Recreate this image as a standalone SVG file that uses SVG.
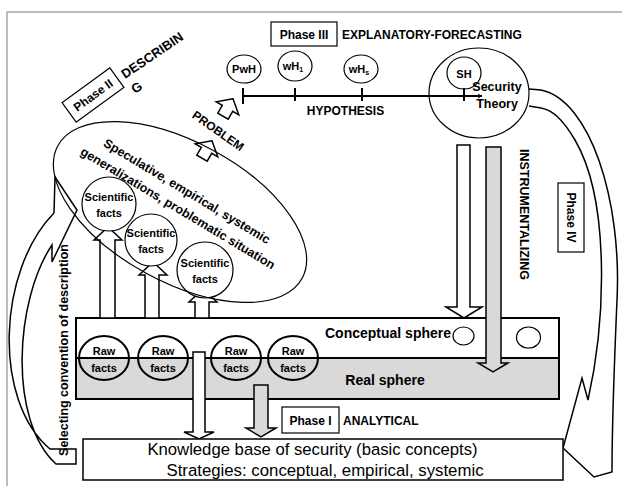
<svg xmlns="http://www.w3.org/2000/svg" width="622" height="486" viewBox="0 0 622 486">
<style>
text{font-family:"Liberation Sans",Arial,sans-serif;fill:#000}
.b{font-weight:bold}
.ln{fill:none;stroke:#000;stroke-width:1.5}
.wf{fill:#fff;stroke:#000;stroke-width:1.5}
.gf{fill:#d9d9d9;stroke:#000;stroke-width:1.5}
.c2{fill:none;stroke:#000;stroke-width:2}
.cw{fill:#fff;stroke:#000;stroke-width:1.2}
</style>
<defs>
<marker id="ah" viewBox="0 0 10 10" refX="9" refY="5" markerWidth="5" markerHeight="5" orient="auto" markerUnits="userSpaceOnUse"><path d="M0,0 L10,5 L0,10 Z" fill="#000"/></marker>
</defs>
<rect width="622" height="486" fill="#fff"/>
<path d="M7,486 V12 H622" fill="none" stroke="#a6a6a6" stroke-width="1.5"/>

<g id="spheres">
<rect x="76" y="318" width="483" height="81" fill="#fff" stroke="none"/>
<rect x="76" y="358" width="483" height="41" fill="#d9d9d9" stroke="none"/>
<rect x="76" y="318" width="483" height="81" fill="none" stroke="#000" stroke-width="2"/>
<line x1="76" y1="358" x2="559" y2="358" stroke="#000" stroke-width="2"/>
<text class="b" x="388" y="338" font-size="14" text-anchor="middle">Conceptual sphere</text>
<text class="b" x="385" y="385" font-size="14" text-anchor="middle">Real sphere</text>
<ellipse class="cw" cx="463.5" cy="336" rx="10.5" ry="9"/>
<ellipse class="cw" cx="528.5" cy="337.5" rx="12" ry="10.5"/>
</g>

<g id="raw-facts">
<ellipse class="c2" cx="104" cy="358" rx="25" ry="22"/>
<ellipse class="c2" cx="163" cy="358" rx="25" ry="22"/>
<ellipse class="c2" cx="236" cy="358" rx="25" ry="22"/>
<ellipse class="c2" cx="293" cy="358" rx="25" ry="22"/>
<g class="b" font-size="11" text-anchor="middle">
<text x="104" y="355">Raw</text><text x="104" y="372">facts</text>
<text x="163" y="355">Raw</text><text x="163" y="372">facts</text>
<text x="236" y="355">Raw</text><text x="236" y="372">facts</text>
<text x="293" y="355">Raw</text><text x="293" y="372">facts</text>
</g>
</g>

<g id="connectors">
<path class="wf" d="M100,318 V240 H94 L108,227 L122,240 H115 V318 Z"/>
<path class="wf" d="M145,318 V275 H139 L153,262 L167,275 H159 V318 Z"/>
<path class="wf" d="M195,318 V302 H189 L203,289 L217,302 H209 V318 Z"/>
<path class="wf" d="M457,145 V307 H446 L464,318 L482,307 H470 V145 Z"/>
<path class="gf" d="M486,147 V363 H478 L493,372 L508,363 H501 V147 Z"/>
<path class="wf" d="M193,352 V432 H184 L199,439 L214,432 H205 V352 Z"/>
<path class="gf" d="M254,385 V428 H246 L261,437 L276,428 H268 V385 Z"/>
<path class="wf" d="M0,-6 L-13,5 H-6 V14 H6 V5 H13 Z" transform="translate(230,104) rotate(30)"/>
<path class="wf" d="M0,-6 L-13,5 H-6 V14 H6 V5 H13 Z" transform="translate(209,146) rotate(30)"/>
<line x1="243" y1="96" x2="482" y2="96" stroke="#000" stroke-width="2" marker-end="url(#ah)"/>
<path d="M243,88 V104 M295,88 V101 M362,88 V101 M464,88 V101" stroke="#000" stroke-width="2"/>
<path class="ln" d="M541,90 L529,89 M541,108 L529,106 M541,90 C590,100 622,200 617,300 C614,370 612,420 612,472 L594,477 L563,448 L582,378 L588,400 C606,320 610,200 575,140 C562,118 552,110 541,108"/>
<path class="ln" d="M54,213 L55,177 L77,210 L52,262 L52,245 C15,300 8,420 56,464 L76,464 L76,449 L50,449 C-8,400 -2,270 54,213"/>
</g>

<g id="sci-facts">
<circle class="cw" cx="109" cy="204" r="27"/>
<circle class="cw" cx="151" cy="240" r="26"/>
<circle class="cw" cx="205" cy="270" r="28"/>
<g class="b" font-size="11" text-anchor="middle">
<text x="109" y="201">Scientific</text><text x="109" y="217">facts</text>
<text x="151" y="237">Scientific</text><text x="151" y="253">facts</text>
<text x="205" y="267">Scientific</text><text x="205" y="283">facts</text>
</g>
</g>

<g id="generalizations">
<ellipse cx="180" cy="212" rx="139" ry="70" transform="rotate(28.5 180 212)" fill="none" stroke="#000" stroke-width="1.2"/>
<g class="b" font-size="12.5" text-anchor="middle">
<text transform="translate(187,191) rotate(31)" y="4.5">Speculative, empirical, systemic</text>
<text transform="translate(178,208) rotate(31)" y="4.5">generalizations, problematic situation</text>
</g>
</g>

<g id="phase2">
<g transform="translate(93,95) rotate(-36)">
<rect x="-29.5" y="-12" width="59" height="24" fill="#fff" stroke="#000" stroke-width="1.2"/>
<text class="b" font-size="12" text-anchor="middle" y="4.5">Phase II</text>
</g>
<g transform="translate(125,79) rotate(-34)" class="b" font-size="13">
<text class="b">DESCRIBIN</text><text class="b" y="18">G</text>
</g>
</g>

<g id="problem">
<text class="b" font-size="12" text-anchor="middle" transform="translate(218,131) rotate(35)" y="4">PROBLEM</text>
</g>

<g id="phase3">
<rect x="271" y="22" width="66" height="24" fill="#fff" stroke="#000" stroke-width="1.2"/>
<text class="b" x="304" y="38.5" font-size="12" text-anchor="middle">Phase III</text>
<text class="b" x="342" y="38.5" font-size="12">EXPLANATORY-FORECASTING</text>
<text class="b" x="345.5" y="115" font-size="12" text-anchor="middle">HYPOTHESIS</text>
</g>

<g id="hypotheses" class="b" font-size="11" text-anchor="middle">
<ellipse cx="244" cy="69" rx="17" ry="14" fill="#fff" stroke="#000" stroke-width="1.2"/>
<ellipse cx="295" cy="66" rx="17" ry="15" fill="#fff" stroke="#000" stroke-width="1.2"/>
<ellipse cx="361" cy="69" rx="17" ry="14" fill="#fff" stroke="#000" stroke-width="1.2"/>
<text class="b" x="244" y="73">PwH</text>
<text class="b" x="293" y="70">wH<tspan font-size="7" dy="2">1</tspan></text>
<text class="b" x="359" y="73">wH<tspan font-size="7" dy="2">s</tspan></text>
</g>

<g id="theory">
<ellipse cx="479" cy="93" rx="50" ry="45" fill="none" stroke="#000" stroke-width="1.2"/>
<ellipse cx="464" cy="73" rx="17" ry="16" fill="none" stroke="#000" stroke-width="1.2"/>
<text class="b" x="464" y="78" font-size="11" text-anchor="middle">SH</text>
<text class="b" x="497" y="91" font-size="12.5" text-anchor="middle">Security</text>
<text class="b" x="497" y="108" font-size="12.5" text-anchor="middle">Theory</text>
</g>

<g id="phase4">
<rect x="558" y="183" width="26" height="69" fill="#fff" stroke="#000" stroke-width="1.2"/>
<text class="b" font-size="12" text-anchor="middle" transform="translate(571,217.5) rotate(90)" y="4.5">Phase IV</text>
<text class="b" font-size="12.5" text-anchor="middle" transform="translate(524.5,214.5) rotate(90)" y="4.5">INSTRUMENTALIZING</text>
</g>

<g id="selecting">
<text class="b" font-size="12.5" text-anchor="middle" transform="translate(63,350) rotate(-90)" y="4.5">Selecting convention of description</text>
</g>

<g id="phase1">
<rect x="282" y="407" width="57" height="26" fill="#fff" stroke="#000" stroke-width="1.2"/>
<text class="b" x="310.5" y="425" font-size="12" text-anchor="middle">Phase I</text>
<text class="b" x="343" y="425" font-size="12">ANALYTICAL</text>
</g>

<g id="knowledge">
<rect x="83" y="439" width="480" height="41" fill="#fff" stroke="#000" stroke-width="1.5"/>
<text x="312.5" y="455" font-size="16.7" text-anchor="middle">Knowledge base of security (basic concepts)</text>
<text x="325" y="476" font-size="16.8" text-anchor="middle">Strategies: conceptual, empirical, systemic</text>
</g>
</svg>
